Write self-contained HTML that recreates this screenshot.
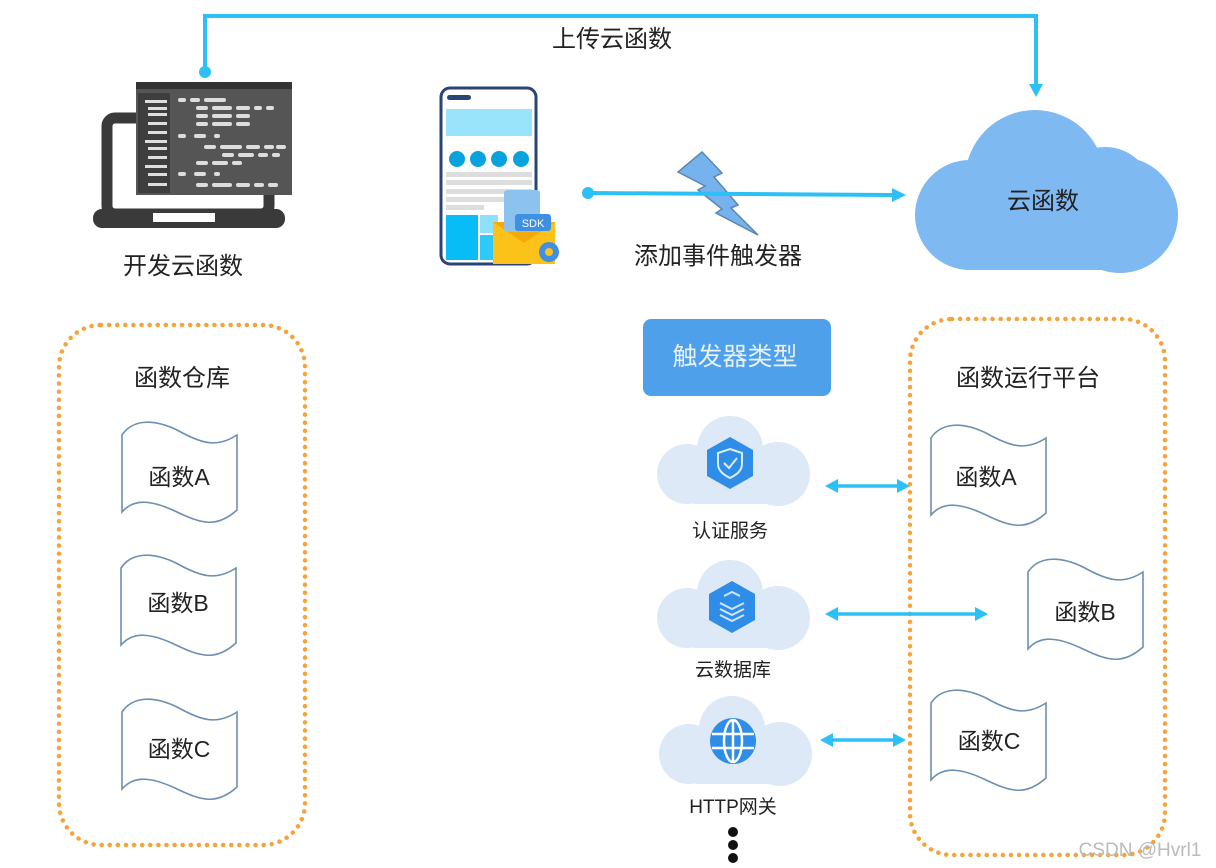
<!DOCTYPE html>
<html><head><meta charset="utf-8"><style>
html,body{margin:0;padding:0;background:#fff}
svg{display:block}
text{font-family:"Liberation Sans","Noto Sans CJK SC",sans-serif;fill:#222}
</style></head><body>
<svg width="1216" height="868" viewBox="0 0 1216 868" xmlns="http://www.w3.org/2000/svg">
<defs>
<path id="flag" d="M0,15 C10,0 30,-2 55,10 C80,24 95,28 115,15 L115,90 C95,108 80,104 55,92 C30,80 12,78 0,92 Z" fill="#fff" stroke="#6d8fb0" stroke-width="1.6"/>
<g id="cl"><circle cx="75" cy="35" r="33"/><circle cx="32" cy="60" r="30"/><circle cx="123" cy="60" r="32"/><rect x="32" y="45" width="92" height="45" rx="10"/></g>
</defs>

<!-- top connector -->
<polyline points="205,72 205,16 1036,16 1036,88" fill="none" stroke="#2cc0f5" stroke-width="4"/>
<circle cx="205" cy="72" r="6" fill="#2cc0f5"/>
<polygon points="1029,84 1043,84 1036,97" fill="#2cc0f5"/>
<text x="612" y="47" font-size="24" text-anchor="middle">上传云函数</text>

<!-- laptop -->
<rect x="107" y="118" width="162" height="96" rx="8" fill="none" stroke="#3a3a3a" stroke-width="11"/>
<rect x="93" y="209" width="192" height="19" rx="9" fill="#3a3a3a"/>
<rect x="153" y="213" width="62" height="9" fill="#fff"/>
<rect x="136" y="82" width="156" height="113" fill="#555"/>
<rect x="136" y="82" width="156" height="7" fill="#333"/>
<rect x="138" y="93" width="32" height="100" fill="#3e3e3e"/>
<g fill="#ddd">
<rect x="145" y="100" width="22" height="3"/><rect x="148" y="107" width="19" height="3"/><rect x="148" y="113" width="19" height="3"/><rect x="148" y="122" width="19" height="3"/><rect x="148" y="131" width="19" height="3"/><rect x="145" y="140" width="22" height="3"/><rect x="148" y="147" width="19" height="3"/><rect x="148" y="156" width="19" height="3"/><rect x="145" y="165" width="22" height="3"/><rect x="148" y="173" width="19" height="3"/><rect x="148" y="183" width="19" height="3"/>
<rect x="178" y="98" width="8" height="4" rx="2"/><rect x="190" y="98" width="10" height="4" rx="2"/><rect x="204" y="98" width="22" height="4" rx="2"/>
<rect x="196" y="106" width="12" height="4" rx="2"/><rect x="212" y="106" width="20" height="4" rx="2"/><rect x="236" y="106" width="14" height="4" rx="2"/><rect x="254" y="106" width="8" height="4" rx="2"/><rect x="266" y="106" width="8" height="4" rx="2"/>
<rect x="196" y="114" width="12" height="4" rx="2"/><rect x="212" y="114" width="20" height="4" rx="2"/><rect x="236" y="114" width="14" height="4" rx="2"/>
<rect x="196" y="122" width="12" height="4" rx="2"/><rect x="212" y="122" width="20" height="4" rx="2"/><rect x="236" y="122" width="14" height="4" rx="2"/>
<rect x="178" y="134" width="8" height="4" rx="2"/><rect x="194" y="134" width="12" height="4" rx="2"/><rect x="214" y="134" width="6" height="4" rx="2"/>
<rect x="204" y="145" width="12" height="4" rx="2"/><rect x="220" y="145" width="22" height="4" rx="2"/><rect x="246" y="145" width="14" height="4" rx="2"/><rect x="264" y="145" width="10" height="4" rx="2"/><rect x="276" y="145" width="10" height="4" rx="2"/>
<rect x="222" y="153" width="12" height="4" rx="2"/><rect x="238" y="153" width="16" height="4" rx="2"/><rect x="258" y="153" width="10" height="4" rx="2"/><rect x="272" y="153" width="8" height="4" rx="2"/>
<rect x="196" y="161" width="12" height="4" rx="2"/><rect x="212" y="161" width="16" height="4" rx="2"/><rect x="232" y="161" width="10" height="4" rx="2"/>
<rect x="178" y="172" width="8" height="4" rx="2"/><rect x="194" y="172" width="12" height="4" rx="2"/><rect x="214" y="172" width="6" height="4" rx="2"/>
<rect x="196" y="183" width="12" height="4" rx="2"/><rect x="212" y="183" width="20" height="4" rx="2"/><rect x="236" y="183" width="14" height="4" rx="2"/><rect x="254" y="183" width="10" height="4" rx="2"/><rect x="268" y="183" width="10" height="4" rx="2"/>
</g>
<text x="183" y="274" font-size="24" text-anchor="middle">开发云函数</text>

<!-- phone -->
<rect x="441" y="88" width="95" height="176" rx="9" fill="#fff" stroke="#2a4575" stroke-width="3"/>
<rect x="447" y="95" width="24" height="5" rx="2.5" fill="#2a4575"/>
<rect x="446" y="109" width="86" height="27" fill="#99e3fb"/>
<g fill="#08a3dc"><circle cx="457" cy="159" r="8"/><circle cx="478" cy="159" r="8"/><circle cx="499" cy="159" r="8"/><circle cx="521" cy="159" r="8"/></g>
<g fill="#ddd"><rect x="446" y="172" width="86" height="5"/><rect x="446" y="180" width="86" height="5"/><rect x="446" y="189" width="86" height="5"/><rect x="446" y="197" width="86" height="5"/><rect x="446" y="205" width="38" height="5"/></g>
<rect x="446" y="215" width="32" height="45" fill="#08bdf5"/>
<rect x="480" y="215" width="18" height="18" fill="#8ee0fb"/>
<rect x="480" y="235" width="18" height="25" fill="#2ec9f7"/>
<rect x="493" y="222" width="62" height="42" fill="#fdc21a"/>
<polygon points="493,222 524,243 555,222" fill="#f3aa0a"/>
<rect x="504" y="190" width="36" height="42" rx="3" fill="#8cc2ee"/>
<rect x="515" y="214" width="36" height="17" rx="3" fill="#3f90e0"/>
<text x="533" y="227" font-size="11" text-anchor="middle" style="fill:#fff">SDK</text>
<circle cx="549" cy="252" r="10" fill="#3f90e0"/><circle cx="549" cy="252" r="4" fill="#fdc21a"/>

<!-- trigger arrow -->
<polygon points="702,152 722,173 714,177 738,205 731,208 758,235 716,213 722,209 698,190 705,186 678,172" fill="#76b3ee" stroke="#5b87ad" stroke-width="1.5"/>
<line x1="588" y1="193" x2="895" y2="195" stroke="#2cc0f5" stroke-width="4"/>
<circle cx="588" cy="193" r="6" fill="#2cc0f5"/>
<polygon points="892,188 906,195 892,202" fill="#2cc0f5"/>
<text x="718" y="264" font-size="24" text-anchor="middle">添加事件触发器</text>

<!-- big cloud -->
<g fill="#7fb9f1">
<circle cx="1035" cy="180" r="70"/><circle cx="970" cy="215" r="55"/><circle cx="1120" cy="215" r="58"/><circle cx="1105" cy="195" r="48"/>
<rect x="965" y="200" width="160" height="70"/>
</g>
<text x="1043" y="209" font-size="24" text-anchor="middle">云函数</text>

<!-- button -->
<rect x="643" y="319" width="188" height="77" rx="8" fill="#4fa0ea"/>
<text x="735" y="365" font-size="25" text-anchor="middle" style="fill:#e8f0f8">触发器类型</text>

<!-- dotted boxes -->
<rect x="59" y="325" width="246" height="520" rx="42" fill="none" stroke="#f7a33a" stroke-width="4.5" stroke-dasharray="0.1 8" stroke-linecap="round"/>
<rect x="910" y="319" width="255" height="536" rx="42" fill="none" stroke="#f7a33a" stroke-width="4.5" stroke-dasharray="0.1 8" stroke-linecap="round"/>
<text x="182" y="386" font-size="24" text-anchor="middle">函数仓库</text>
<text x="1028" y="386" font-size="24" text-anchor="middle">函数运行平台</text>

<!-- flags left -->
<use href="#flag" transform="translate(122,420)"/>
<use href="#flag" transform="translate(121,553)"/>
<use href="#flag" transform="translate(122,697)"/>
<text x="179" y="485" font-size="23" text-anchor="middle">函数A</text>
<text x="178" y="611" font-size="23" text-anchor="middle">函数B</text>
<text x="179" y="757" font-size="23" text-anchor="middle">函数C</text>

<!-- flags right -->
<use href="#flag" transform="translate(931,423)"/>
<use href="#flag" transform="translate(1028,557)"/>
<use href="#flag" transform="translate(931,688)"/>
<text x="986" y="485" font-size="23" text-anchor="middle">函数A</text>
<text x="1085" y="620" font-size="23" text-anchor="middle">函数B</text>
<text x="989" y="749" font-size="23" text-anchor="middle">函数C</text>

<!-- small clouds -->
<g fill="#dde9f6">
<use href="#cl" transform="translate(655,414)"/>
<use href="#cl" transform="translate(655,558)"/>
<use href="#cl" transform="translate(657,694)"/>
</g>
<!-- icons -->
<polygon points="730,437 753,450 753,476 730,489 707,476 707,450" fill="#2f8de8"/>
<path d="M730,449 L742,453 L742,464 C742,471 736,475 730,478 C724,475 718,471 718,464 L718,453 Z" fill="none" stroke="#d8ecff" stroke-width="2"/>
<polyline points="724,463 729,468 737,458" fill="none" stroke="#d8ecff" stroke-width="2"/>
<polygon points="732,581 755,594 755,620 732,633 709,620 709,594" fill="#2f8de8"/>
<g fill="none" stroke="#cfe6ff" stroke-width="2"><polyline points="720,603 732,609 744,603"/><polyline points="720,609 732,615 744,609"/><polyline points="720,615 732,621 744,615"/><polyline points="724,596 732,592 740,596"/></g>
<circle cx="733" cy="741" r="23" fill="#2f8de8"/>
<g fill="none" stroke="#fff" stroke-width="2.5"><ellipse cx="733" cy="741" rx="9" ry="21"/><line x1="712" y1="734" x2="754" y2="734"/><line x1="712" y1="748" x2="754" y2="748"/><line x1="733" y1="720" x2="733" y2="762"/></g>
<text x="730" y="537" font-size="19" text-anchor="middle">认证服务</text>
<text x="733" y="676" font-size="19" text-anchor="middle">云数据库</text>
<text x="733" y="813" font-size="19" text-anchor="middle">HTTP网关</text>
<g fill="#111"><circle cx="733" cy="832" r="5"/><circle cx="733" cy="845" r="5"/><circle cx="733" cy="858" r="5"/></g>

<!-- double arrows -->
<g stroke="#2cc0f5" stroke-width="3.5"><line x1="834" y1="486" x2="902" y2="486"/><line x1="834" y1="614" x2="980" y2="614"/><line x1="830" y1="740" x2="898" y2="740"/></g>
<g fill="#2cc0f5">
<polygon points="825,486 838,479 838,493"/><polygon points="910,486 897,479 897,493"/>
<polygon points="825,614 838,607 838,621"/><polygon points="988,614 975,607 975,621"/>
<polygon points="820,740 833,733 833,747"/><polygon points="906,740 893,733 893,747"/>
</g>

<text x="1140" y="856" font-size="19" text-anchor="middle" style="fill:#bbb">CSDN @Hvrl1</text>
</svg>
</body></html>
